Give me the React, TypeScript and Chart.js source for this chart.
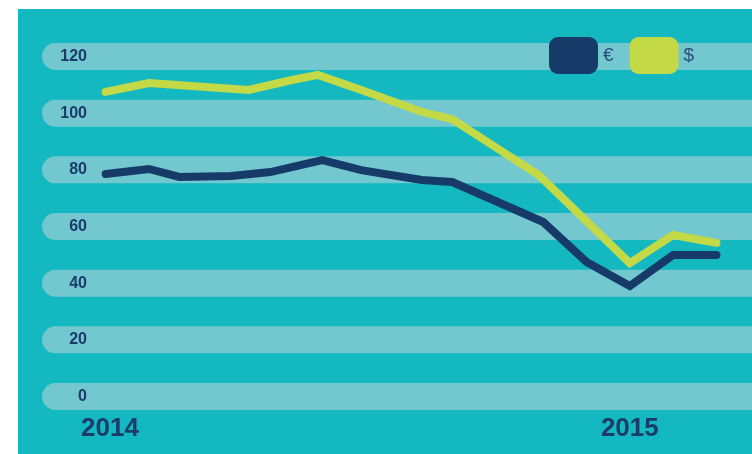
import React, { useEffect, useRef } from "react";
import { Chart, registerables } from "chart.js";

Chart.register(...registerables);

// ---- data ----
const seriesNames = ["€", "$"];
// x = months since January 2014
const euroX = [-0.1, 0.9, 1.6, 2.8, 3.7, 4.9, 5.8, 7.2, 7.9, 10.0, 11.0, 12.0, 13.0, 14.0];
const euroY = [78.5, 80.3, 77.5, 77.8, 79.2, 83.4, 79.9, 76.4, 75.7, 61.6, 47.5, 39.0, 49.9, 49.9];
const dollarX = [-0.1, 0.9, 3.2, 4.2, 4.8, 5.8, 7.2, 7.9, 9.0, 9.9, 12.0, 13.0, 14.0];
const dollarY = [107.5, 110.6, 108.2, 111.7, 113.5, 108.2, 100.4, 97.9, 87.0, 78.1, 47.1, 57.0, 54.2];
const yearTicks = [0, 12];
const yearLabels = ["2014", "2015"];
const yTickValues = [0, 20, 40, 60, 80, 100, 120];

// ---- styles ----
const BG = "#13B8C1";
const BAND = "#72C8CE";
const NAVY = "#173B69";
const LIME = "#C3D945";
const TEXT = "#1B3C6B";
const LEGEND_TEXT = "#2C4C7C";
const FONT = "'Liberation Sans', Arial, sans-serif";

const bandPlugin = {
  id: "bands",
  beforeDraw(chart: any) {
    const ctx = chart.ctx;
    const y = chart.scales.y;
    ctx.save();
    ctx.fillStyle = BAND;
    y.ticks.forEach((t: any) => {
      const py = y.getPixelForValue(t.value);
      ctx.beginPath();
      ctx.roundRect(24, py - 13.5, chart.width, 27, 13.5);
      ctx.fill();
    });
    ctx.restore();
  },
};

const legendPlugin = {
  id: "customLegend",
  afterDraw(chart: any) {
    const ctx = chart.ctx;
    let x = 531;
    const top = 28;
    ctx.save();
    chart.data.datasets.forEach((ds: any) => {
      ctx.fillStyle = ds.borderColor;
      ctx.beginPath();
      ctx.roundRect(x, top, 49, 37, 9);
      ctx.fill();
      ctx.fillStyle = LEGEND_TEXT;
      ctx.font = `19px ${FONT}`;
      ctx.textBaseline = "middle";
      ctx.textAlign = "left";
      ctx.fillText(ds.label, x + 54, top + 19);
      x += 54 + ctx.measureText(ds.label).width + 16;
    });
    ctx.restore();
  },
};

export default function App() {
  const ref = useRef<HTMLCanvasElement>(null);

  useEffect(() => {
    if (!ref.current) return;
    const chart = new Chart(ref.current, {
      type: "line",
      data: {
        datasets: [
          {
            label: seriesNames[0],
            data: euroX.map((x, i) => ({ x, y: euroY[i] })),
            borderColor: NAVY,
            backgroundColor: NAVY,
            borderWidth: 8,
            pointRadius: 0,
            tension: 0,
            borderCapStyle: "round",
            borderJoinStyle: "miter",
          },
          {
            label: seriesNames[1],
            data: dollarX.map((x, i) => ({ x, y: dollarY[i] })),
            borderColor: LIME,
            backgroundColor: LIME,
            borderWidth: 8,
            pointRadius: 0,
            tension: 0,
            borderCapStyle: "round",
            borderJoinStyle: "miter",
          },
        ],
      },
      options: {
        responsive: false,
        animation: false,
        devicePixelRatio: 1,
        layout: { padding: { top: 47.5, left: 0, right: 0, bottom: 0 } },
        plugins: { legend: { display: false }, tooltip: { enabled: false } },
        scales: {
          x: {
            type: "linear",
            min: -0.392,
            max: 14.82,
            afterBuildTicks: (s: any) => {
              s.ticks = yearTicks.map((v) => ({ value: v }));
            },
            afterFit: (s: any) => {
              s.height = 57.5;
            },
            grid: { display: false, drawTicks: false },
            border: { display: false },
            ticks: {
              autoSkip: false,
              maxRotation: 0,
              padding: 17,
              color: TEXT,
              font: { family: FONT, size: 26, weight: "bold" },
              callback: (v: any) => {
                const i = yearTicks.indexOf(Number(v));
                return i >= 0 ? yearLabels[i] : "";
              },
            },
          },
          y: {
            min: 0,
            max: 120,
            afterBuildTicks: (s: any) => {
              s.ticks = yTickValues.map((v) => ({ value: v }));
            },
            afterFit: (s: any) => {
              s.width = 75;
            },
            grid: { display: false, drawTicks: false },
            border: { display: false },
            ticks: {
              padding: 6,
              color: TEXT,
              font: { family: FONT, size: 16, weight: "bold" },
            },
          },
        },
      },
      plugins: [bandPlugin, legendPlugin],
    } as any);
    return () => chart.destroy();
  }, []);

  return (
    <div
      style={{
        position: "fixed",
        left: 18,
        top: 9,
        width: 734,
        height: 445,
        background: BG,
      }}
    >
      <canvas ref={ref} width={734} height={445} style={{ display: "block" }} />
    </div>
  );
}
